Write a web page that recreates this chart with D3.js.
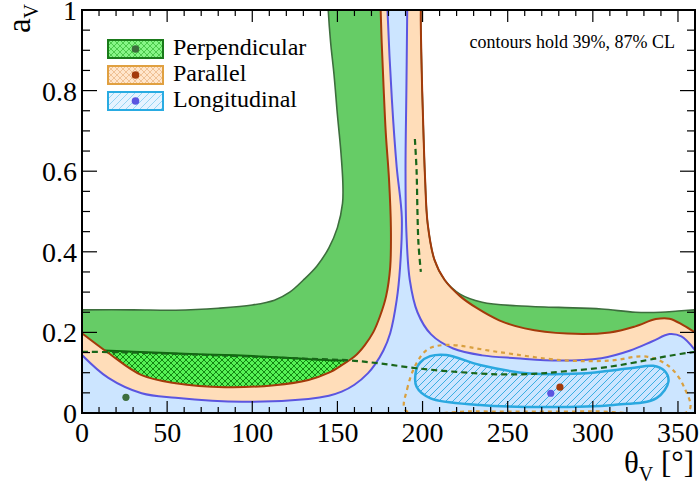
<!doctype html>
<html lang="en">
<head>
<meta charset="utf-8">
<script src="https://cdnjs.cloudflare.com/ajax/libs/d3/7.8.5/d3.min.js"></script>
<style>
  body { margin: 0; background: #fff; }
  svg { font-family: 'Liberation Serif', 'DejaVu Serif', serif; }
</style>
</head>
<body>
<script>
// contour points, [theta_V in degrees, a_V]
// outer (87% CL) boundaries, left branch goes up to a=1, right branch comes down to 360
const perpOuterLeft = [[0,0.256],[30,0.256],[55,0.255],[80,0.26],[100,0.268],[113,0.28],[122,0.3],[130,0.33],[138,0.365],[145,0.41],[150,0.46],[153,0.52],[153.2,0.57],[152,0.65],[150,0.74],[148,0.84],[146,0.92],[144.6,1.0],[144.3,1.03]];
const perpOuterRight = [[199.5,1.03],[199,1.0],[199.5,0.85],[200.5,0.7],[201.5,0.58],[203,0.47],[207,0.38],[213,0.33],[222,0.295],[235,0.275],[255,0.266],[280,0.262],[305,0.258],[325,0.25],[340,0.25],[350,0.253],[360,0.256]];
const paraLeft = [[0,0.198],[15.5,0.149],[35,0.094],[55,0.074],[84,0.064],[113,0.069],[133,0.082],[145,0.1],[153,0.12],[160,0.14],[166,0.168],[171,0.2],[175,0.24],[178.6,0.29],[181,0.362],[181.4,0.46],[180.3,0.58],[178.4,0.695],[177,0.82],[176,0.92],[175.4,1.0],[175.2,1.03]];
const paraRight = [[199.5,1.03],[199,1.0],[199.5,0.85],[200.5,0.7],[201.5,0.58],[203,0.47],[207,0.38],[213,0.33],[222,0.29],[232,0.26],[245,0.23],[260,0.21],[285,0.197],[310,0.2],[325,0.215],[337,0.233],[345,0.234],[353,0.218],[360,0.2]];
const longLeft = [[0,0.144],[15.5,0.087],[35,0.049],[55,0.038],[94,0.028],[133,0.035],[145,0.043],[152.5,0.053],[160,0.07],[168,0.099],[172,0.12],[177,0.155],[181,0.198],[184.8,0.28],[186.8,0.362],[187.8,0.486],[184.8,0.611],[182,0.777],[179.4,1.0],[179.2,1.03]];
const longRight = [[191,1.03],[191,1.0],[190.5,0.8],[190,0.6],[190.5,0.45],[192.5,0.33],[197,0.25],[205,0.195],[218,0.16],[235,0.143],[255,0.136],[280,0.13],[305,0.136],[322,0.155],[335,0.178],[345,0.196],[352,0.19],[360,0.156]];

// inner (39% CL) regions
const perpInnerTop = [[13,0.155],[30,0.152],[60,0.147],[90,0.143],[120,0.137],[145,0.131],[156,0.13]];
const perpInnerBottom = [[156,0.13],[145,0.1],[133,0.082],[113,0.069],[84,0.064],[55,0.074],[35,0.094],[15.5,0.149],[13,0.155]];
const longInner = [[196.3,0.107],[198.5,0.125],[204.4,0.141],[214,0.144],[233.7,0.119],[263,0.098],[292.5,0.098],[322,0.111],[335.4,0.117],[342,0.105],[344.4,0.078],[337.4,0.037],[312,0.02],[272.8,0.015],[233.7,0.02],[204.4,0.037],[196.5,0.065]];

// dashed / dotted contours
const paraDotted = [[190,0.007],[191,0.06],[196.5,0.124],[203,0.158],[214,0.169],[243.5,0.152],[282,0.131],[310,0.13],[331.6,0.14],[345,0.115],[353.5,0.065],[356.6,0.007],[300,0.004],[230,0.004]];
const perpDashed = [[0,0.152],[30,0.15],[60,0.146],[100,0.14],[130,0.135],[155.5,0.131],[175,0.123],[196.5,0.111],[220,0.102],[243.5,0.096],[265,0.097],[282.4,0.103],[310,0.115],[331.6,0.131],[345,0.142],[360,0.152]];
const perpDashedUpper = [[195.5,0.68],[196.5,0.6],[197,0.5],[197.6,0.42],[199,0.35]];

// best fit points
const bestFit = [
  {name: "Perpendicular", t: 25.8, a: 0.039, color: "#3d6e3d"},
  {name: "Parallel", t: 280.7, a: 0.064, color: "#a33a0a"},
  {name: "Longitudinal", t: 275.3, a: 0.049, color: "#5b55e0"}
];

const xMajor = [0, 50, 100, 150, 200, 250, 300, 350];
const yMajor = [0, 0.2, 0.4, 0.6, 0.8, 1];
const yLabels = ["0", "0.2", "0.4", "0.6", "0.8", "1"];

const W = 700, H = 486;
const pL = 82, pR = 695, pT = 10, pB = 413;

const x = d3.scaleLinear().domain([0, 360]).range([pL, pR]);
const y = d3.scaleLinear().domain([0, 1]).range([pB, pT]);

const svg = d3.select("body").append("svg").attr("width", W).attr("height", H);
const defs = svg.append("defs");

defs.append("clipPath").attr("id", "plot")
  .append("rect").attr("x", pL).attr("y", pT).attr("width", pR - pL).attr("height", pB - pT);

// hatch patterns
function crossHatch(id, bg, fg, size, sw) {
  const p = defs.append("pattern").attr("id", id).attr("patternUnits", "userSpaceOnUse")
    .attr("width", size).attr("height", size);
  p.append("rect").attr("width", size).attr("height", size).attr("fill", bg);
  p.append("path").attr("d", `M0,0L${size},${size}M${size},0L0,${size}`)
    .attr("stroke", fg).attr("stroke-width", sw);
}
function diagHatch(id, bg, fg, size, sw) {
  const p = defs.append("pattern").attr("id", id).attr("patternUnits", "userSpaceOnUse")
    .attr("width", size).attr("height", size);
  if (bg) p.append("rect").attr("width", size).attr("height", size).attr("fill", bg);
  p.append("path").attr("d", `M0,${size}L${size},0M${-size/2},${size/2}L${size/2},${-size/2}M${size/2},${size*1.5}L${size*1.5},${size/2}`)
    .attr("stroke", fg).attr("stroke-width", sw);
}
crossHatch("hPerp", "#55f255", "#0c7a0c", 6, 0.9);
crossHatch("hPerpLeg", "#86f586", "#3bbd3b", 6, 0.8);
crossHatch("hParaLeg", "#ffe6cc", "#ebb886", 6, 0.8);
diagHatch("hLong", null, "#2aa8e0", 7, 0.9);
diagHatch("hLongLeg", "#e6f3ff", "#8fd0f0", 7, 0.9);

const line = d3.line().x(d => x(d[0])).y(d => y(d[1])).curve(d3.curveCatmullRom.alpha(0.5));
const closed = d3.line().x(d => x(d[0])).y(d => y(d[1])).curve(d3.curveCatmullRomClosed.alpha(0.5));

function joined(...segs) {
  return segs.map((s, i) => i ? line(s).replace(/^M/, "L") : line(s)).join("");
}
function band(l, r) {
  return joined(l, r) + `L${x(360)},${y(0)}L${x(0)},${y(0)}Z`;
}

const g = svg.append("g").attr("clip-path", "url(#plot)");

// filled bands
g.append("path").attr("d", band(perpOuterLeft, perpOuterRight)).attr("fill", "#66cc66");
g.append("path").attr("d", band(paraLeft, paraRight)).attr("fill", "#ffddb9");
g.append("path").attr("d", band(longLeft, longRight)).attr("fill", "#cce5ff");

// perpendicular inner region
g.append("path").attr("d", joined(perpInnerTop, perpInnerBottom) + "Z")
  .attr("fill", "url(#hPerp)");
g.append("path").attr("d", line(perpInnerTop))
  .attr("fill", "none").attr("stroke", "#0a6a0a").attr("stroke-width", 2);

// outer contour lines
g.append("path").attr("d", line(perpOuterLeft)).attr("fill", "none").attr("stroke", "#3d6e3d").attr("stroke-width", 1.6);
g.append("path").attr("d", line(perpOuterRight)).attr("fill", "none").attr("stroke", "#3d6e3d").attr("stroke-width", 1.6);
[paraLeft, paraRight].forEach(s => g.append("path").attr("d", line(s))
  .attr("fill", "none").attr("stroke", "#a33a0a").attr("stroke-width", 2));
[longLeft, longRight].forEach(s => g.append("path").attr("d", line(s))
  .attr("fill", "none").attr("stroke", "#5b55e0").attr("stroke-width", 2));

// longitudinal inner region
g.append("path").attr("d", closed(longInner))
  .attr("fill", "url(#hLong)").attr("stroke", "#2aa8e0").attr("stroke-width", 2.5);

// dotted / dashed lines
g.append("path").attr("d", closed(paraDotted)).attr("fill", "none")
  .attr("stroke", "#d9a040").attr("stroke-width", 2.2).attr("stroke-dasharray", "4,4");
[perpDashed, perpDashedUpper].forEach(s => g.append("path").attr("d", line(s)).attr("fill", "none")
  .attr("stroke", "#1a661a").attr("stroke-width", 2.2).attr("stroke-dasharray", "6,4"));

// best fit points
g.selectAll("circle.fit").data(bestFit).enter().append("circle")
  .attr("class", "fit")
  .attr("cx", d => x(d.t)).attr("cy", d => y(d.a)).attr("r", 3.6)
  .attr("fill", d => d.color);

// frame and ticks
svg.append("rect").attr("x", pL).attr("y", pT).attr("width", pR - pL).attr("height", pB - pT)
  .attr("fill", "none").attr("stroke", "#000").attr("stroke-width", 2);

const ax = svg.append("g").attr("stroke", "#000").attr("stroke-width", 1.2);
d3.range(0, 361, 10).forEach(t => {
  const len = t % 50 === 0 ? 12 : 6;
  ax.append("line").attr("x1", x(t)).attr("x2", x(t)).attr("y1", pB).attr("y2", pB - len);
  ax.append("line").attr("x1", x(t)).attr("x2", x(t)).attr("y1", pT).attr("y2", pT + len);
});
d3.range(0, 21).forEach(i => {
  const v = i * 0.05;
  const len = i % 4 === 0 ? 15 : 8;
  ax.append("line").attr("y1", y(v)).attr("y2", y(v)).attr("x1", pL).attr("x2", pL + len);
  ax.append("line").attr("y1", y(v)).attr("y2", y(v)).attr("x1", pR).attr("x2", pR - len);
});

// tick labels
svg.selectAll("text.xl").data(xMajor).enter().append("text")
  .attr("class", "xl").attr("x", d => x(d)).attr("y", 442)
  .attr("text-anchor", "middle").attr("font-size", 28).text(d => d);
svg.selectAll("text.yl").data(yMajor).enter().append("text")
  .attr("class", "yl").attr("x", 77).attr("y", d => y(d) + 10)
  .attr("text-anchor", "end").attr("font-size", 28).text((d, i) => yLabels[i]);

// axis titles
const xt = svg.append("text").attr("x", 694).attr("y", 473).attr("text-anchor", "end").attr("font-size", 31);
xt.append("tspan").text("θ");
xt.append("tspan").attr("font-size", 20).attr("dy", 8).text("V");
xt.append("tspan").attr("dy", -8).text(" [°]");

const yt = svg.append("text").attr("transform", "translate(30,4) rotate(-90)")
  .attr("text-anchor", "end").attr("font-size", 33);
yt.append("tspan").text("a");
yt.append("tspan").attr("font-size", 20).attr("dy", 8).text("V");

// note
svg.append("text").attr("x", 675).attr("y", 48).attr("text-anchor", "end")
  .attr("font-size", 18).text("contours hold 39%, 87% CL");

// legend
const legendFill = ["url(#hPerpLeg)", "url(#hParaLeg)", "url(#hLongLeg)"];
const legendStroke = ["#1a7a1a", "#e0a040", "#29abe2"];
const leg = svg.selectAll("g.leg").data(bestFit).enter().append("g")
  .attr("class", "leg").attr("transform", (d, i) => `translate(108,${40 + i * 26})`);
leg.append("rect").attr("width", 55).attr("height", 18)
  .attr("fill", (d, i) => legendFill[i]).attr("stroke", (d, i) => legendStroke[i]).attr("stroke-width", 2);
leg.append("circle").attr("cx", 27.5).attr("cy", 9).attr("r", 3.8).attr("fill", d => d.color);
leg.append("text").attr("x", 65).attr("y", 15).attr("font-size", 24).text(d => d.name);
</script>
</body>
</html>
